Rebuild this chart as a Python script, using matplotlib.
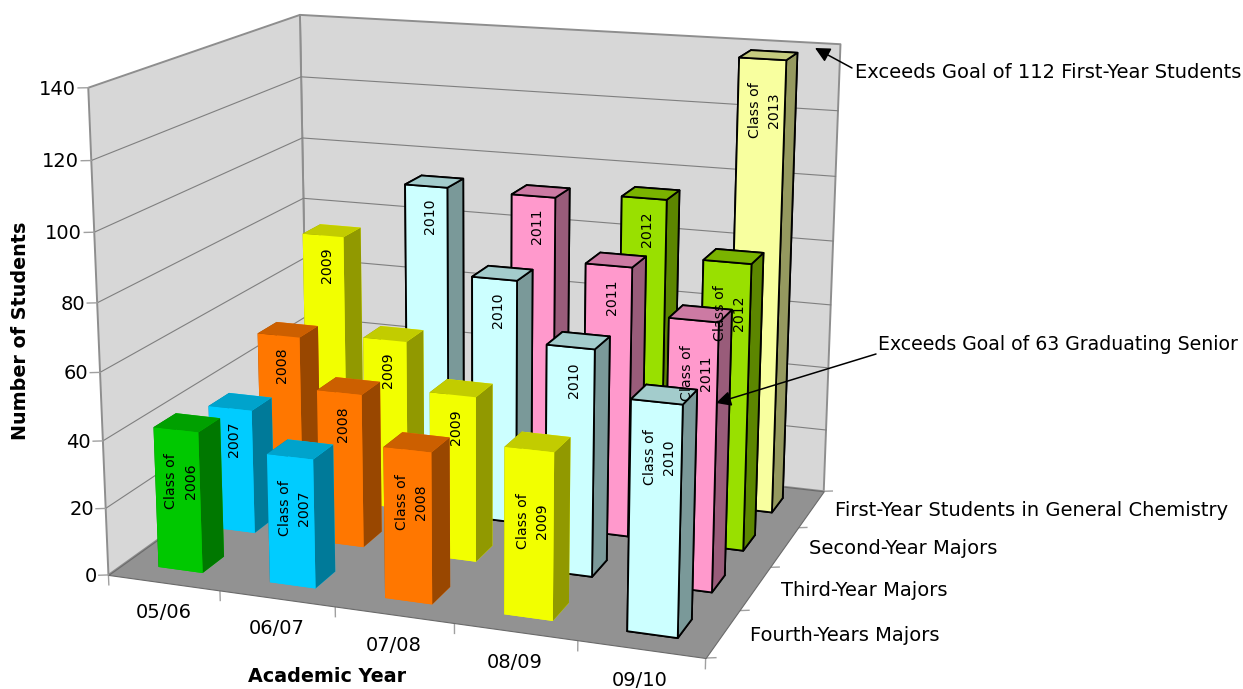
"""Students by academic year and class level, Excel-style 3D columns."""

import matplotlib

matplotlib.use("Agg")
import matplotlib.pyplot as plt  # noqa: E402
import numpy as np  # noqa: E402
from matplotlib.colors import to_rgb  # noqa: E402
from mpl_toolkits.mplot3d.art3d import Poly3DCollection  # noqa: E402

YEARS = ["05/06", "06/07", "07/08", "08/09", "09/10"]
LEVELS = ["Fourth-Years Majors", "Third-Year Majors", "Second-Year Majors",
          "First-Year Students in General Chemistry"]
Z_TICKS = [0, 20, 40, 60, 80, 100, 120, 140]

# one list per level, front row first
FOURTH_YEAR = [42, 38, 44, 48, 65]
THIRD_YEAR = [38, 46.5, 49.5, 67, 78]
SECOND_YEAR = [51, 53, 75, 82, 86]
FIRST_YEAR = [74.5, 93, 92.5, 94.5, 138.5]

FOURTH_CLASS = [2006, 2007, 2008, 2009, 2010]
THIRD_CLASS = [2007, 2008, 2009, 2010, 2011]
SECOND_CLASS = [2008, 2009, 2010, 2011, 2012]
FIRST_CLASS = [2009, 2010, 2011, 2012, 2013]

CLASS_COLOR = {2006: "#00c800", 2007: "#00ccff", 2008: "#ff7700", 2009: "#f2ff00",
               2010: "#ccffff", 2011: "#ff99cc", 2012: "#99e000", 2013: "#f8ff9f"}
OUTLINED = {2010, 2011, 2012, 2013}

W, H = 1243, 689

# where box corners land in the image: (x, y, z) -> (px, py), used to fit the camera
CAMERA_REF = [
    ((0, 0, 0), (108.5, 575)), ((0, 0, 80), (97, 303)), ((0, 0, 140), (88, 88)),
    ((0, 4, 0), (307.5, 432)), ((0, 4, 80), (304, 198)), ((0, 4, 140), (300, 15)),
    ((5, 4, 0), (824, 492)), ((5, 4, 80), (832, 241)), ((5, 4, 140), (841, 44)),
    ((5, 0, 0), (706, 657.5)),
]


def fit_camera(ref):
    rows = []
    for (x, y, z), (u, v) in ref:
        rows.append([x, y, z, 1, 0, 0, 0, 0, -u * x, -u * y, -u * z, -u])
        rows.append([0, 0, 0, 0, x, y, z, 1, -v * x, -v * y, -v * z, -v])
    P = np.linalg.svd(np.array(rows, dtype=float))[2][-1].reshape(3, 4)
    return P / (P[2] @ np.array([2.5, 2, 0, 1]))


P_IMG = fit_camera(CAMERA_REF)
FLIP = np.array([[1, 0, 0], [0, -1, H], [0, 0, 1.0]])

fig = plt.figure(figsize=(W / 100, H / 100), dpi=100, facecolor="white")
# Axes3D forces a square box, so make it as wide as the figure
ax = fig.add_axes([0, -(W - H) / 2 / H, 1, W / H], projection="3d")
ax.set_axis_off()
ax.computed_zorder = False


def get_proj():
    # pixel camera -> 2D data coords of the axes, depth kept as -1/w
    P = ax.transData.inverted().get_matrix() @ FLIP @ P_IMG
    return np.vstack([P[0], P[1], [0, 0, 0, -1], P[2]])


ax.get_proj = get_proj


def label_at(x, y, z, text, **kw):
    # texts sit on top of the whole plot, so they go on the figure
    u, v, w = P_IMG @ np.array([x, y, z, 1.0])
    kw.setdefault("va", "center")
    kw.setdefault("fontsize", 14)
    return fig.text(u / w / W, 1 - v / w / H, text, **kw)


GRID = "#7f7f7f"
EDGE = "#8e8e8e"
TICK = "#a0a0a0"
ZMAX = Z_TICKS[-1]
NX, NY = len(YEARS), len(LEVELS)

walls = [[(0, 0, 0), (0, NY, 0), (0, NY, ZMAX), (0, 0, ZMAX)],
         [(0, NY, 0), (NX, NY, 0), (NX, NY, ZMAX), (0, NY, ZMAX)]]
ax.add_collection3d(Poly3DCollection(walls, facecolors="#d7d7d7", edgecolors=EDGE,
                                     linewidths=1.4, zorder=1))
for z in Z_TICKS[1:-1]:
    ax.plot([0, 0, NX], [0, NY, NY], [z, z, z], color=GRID, lw=0.8, zorder=2)
floor = [[(0, 0, 0), (NX, 0, 0), (NX, NY, 0), (0, NY, 0)]]
ax.add_collection3d(Poly3DCollection(floor, facecolors="#929292", edgecolors="#6a6a6a",
                                     linewidths=0.8, zorder=3))

# value axis
for z in Z_TICKS:
    ax.plot([0, -0.07], [0, -0.033], [z, z], color=TICK, lw=1, zorder=2)
    label_at(-0.085, -0.04, z - 0.3, str(z), ha="right")
# category axes
for i in range(NX + 1):
    ax.plot([i, i], [0, 0], [0, -3], color=TICK, lw=1, zorder=2)
for i, label in enumerate(YEARS):
    label_at(i + 0.5, -0.02, -8.6, label, ha="center")
for j in range(NY + 1):
    ax.plot([NX, NX + 0.07], [j, j + 0.033], [0, 0], color=TICK, lw=1, zorder=2)
for j, label in enumerate(LEVELS):
    label_at(NX + 0.21, j + 0.5, 0.5, label, ha="left")

# columns, back row first so the nearer ones cover them
VALUES = [FOURTH_YEAR, THIRD_YEAR, SECOND_YEAR, FIRST_YEAR]
CLASSES = [FOURTH_CLASS, THIRD_CLASS, SECOND_CLASS, FIRST_CLASS]
TWO_LINE = {(1, 4), (2, 4), (3, 4)}
BAR = 0.4
order = 10
for j in reversed(range(NY)):
    for i in range(NX):
        val, cls = VALUES[j][i], CLASSES[j][i]
        base = np.array(to_rgb(CLASS_COLOR[cls]))
        top, side = base * 0.8, base * 0.6
        faces = [base, top, base, base, side, side]  # -z +z -y +y -x +x
        outlined = cls in OUTLINED
        x0, y0 = i + 0.5 - BAR / 2, j + 0.5 - BAR / 2
        ax.bar3d(x0, y0, 0, BAR, BAR, val, color=faces, shade=False,
                 edgecolor="black" if outlined else None,
                 linewidth=1.3 if outlined else 0, zorder=order)
        order += 1
        if j == 0 or (j, i) in TWO_LINE:
            text, drop = f"Class of\n{cls}", 15
        else:
            text, drop = str(cls), 9.5
        if (j, i) == (0, 3):  # sits lower on its column
            drop = 20
        label_at(i + 0.53, y0, val - drop, text, rotation=90, ha="center", ma="center",
                 fontsize=10.2, linespacing=1.5)

fig.text(21 / W, 1 - 331 / H, "Number of Students", rotation=90, ha="center", va="center",
         fontsize=13.8, fontweight="bold")
fig.text(327 / W, 1 - 677 / H, "Academic Year", ha="center", va="center",
         fontsize=13.8, fontweight="bold")


def callout(text, text_x, text_y, size, tail, tip):
    fig.text(text_x / W, 1 - text_y / H, text, ha="left", va="center", fontsize=size)
    ax.annotate("", xy=(tip[0] / W, 1 - tip[1] / H), xycoords="figure fraction",
                xytext=(tail[0] / W, 1 - tail[1] / H), textcoords="figure fraction",
                arrowprops=dict(arrowstyle="-|>,head_length=0.9,head_width=0.45", color="black",
                                lw=1.1, shrinkA=0, shrinkB=0), zorder=300)


callout("Exceeds Goal of 112 First-Year Students", 855, 72, 14, (852, 68), (815, 48))
callout("Exceeds Goal of 63 Graduating Senior", 878, 345, 13.6, (876, 354), (716, 403))

fig.savefig("out.png", dpi=100, facecolor="white")
